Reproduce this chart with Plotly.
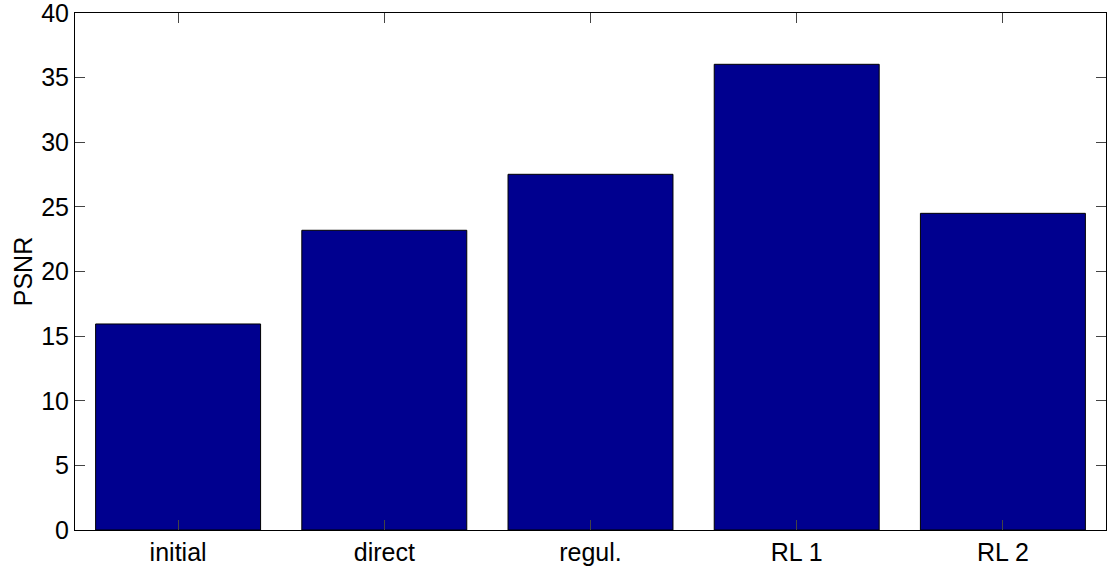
import plotly.graph_objects as go

categories = ['initial', 'direct', 'regul.', 'RL 1', 'RL 2']
psnr = [15.94, 23.19, 27.52, 36.03, 24.5]
positions = [1, 2, 3, 4, 5]

fig = go.Figure()
fig.add_trace(go.Bar(
    x=positions, y=psnr, width=0.8,
    marker=dict(color='#00008f', line=dict(color='black', width=1)),
))

axis_font = dict(family='Liberation Sans, Arial, sans-serif', size=25, color='black')
fig.update_layout(
    width=1107, height=571,
    margin=dict(l=75, r=1, t=13, b=41),
    plot_bgcolor='white', paper_bgcolor='white',
    showlegend=False,
    font=axis_font,
)
fig.update_xaxes(
    range=[0.5, 5.5], tickvals=positions, ticktext=categories,
    showline=True, linecolor='black', linewidth=1, mirror='ticks',
    ticks='inside', ticklen=10, tickcolor='#444', showgrid=False, zeroline=False,
    tickfont=axis_font, automargin=False, ticklabeloverflow='allow',
)
fig.update_yaxes(
    range=[0, 40], dtick=5,
    showline=True, linecolor='black', linewidth=1, mirror='ticks',
    ticks='inside', ticklen=10, tickcolor='#444', showgrid=False, zeroline=False,
    tickfont=axis_font, automargin=False, ticklabeloverflow='allow',
    title=dict(text='PSNR', font=axis_font, standoff=1),
)

# drop the default 8px body margin so the figure fills the window
fig.write_html(
    "out.html",
    config={'displayModeBar': False},
    post_script="document.body.style.margin='0';document.body.style.overflow='hidden';",
)
